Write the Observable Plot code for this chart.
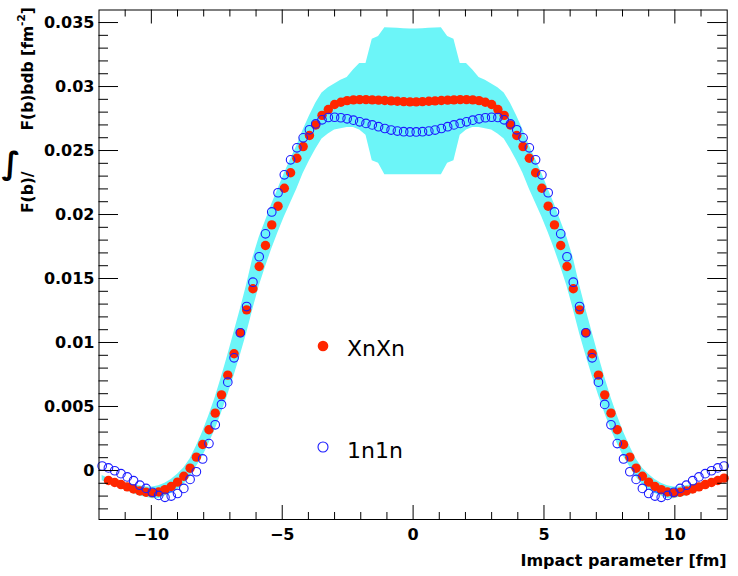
<!DOCTYPE html>
<html><head><meta charset="utf-8">
<script src="https://cdn.jsdelivr.net/npm/d3@7"></script>
<script src="https://cdn.jsdelivr.net/npm/@observablehq/plot@0.6"></script>
<style>body{margin:0;background:#fff} svg{display:block}</style>
</head><body><div id="chart"></div>
<script>
// Bin centres (impact parameter, fm)
const impactParam = [-11.88,-11.64,-11.40,-11.16,-10.92,-10.68,-10.44,-10.20,-9.96,-9.72,-9.48,-9.24,-9.00,-8.76,-8.52,-8.28,-8.04,-7.80,-7.56,-7.32,-7.08,-6.84,-6.60,-6.36,-6.12,-5.88,-5.64,-5.40,-5.16,-4.92,-4.68,-4.44,-4.20,-3.96,-3.72,-3.48,-3.24,-3.00,-2.76,-2.52,-2.28,-2.04,-1.80,-1.56,-1.32,-1.08,-0.84,-0.60,-0.36,-0.12,
0.12,0.36,0.60,0.84,1.08,1.32,1.56,1.80,2.04,2.28,2.52,2.76,3.00,3.24,3.48,3.72,3.96,4.20,4.44,4.68,4.92,5.16,5.40,5.64,5.88,6.12,6.36,6.60,6.84,7.08,7.32,7.56,7.80,8.04,8.28,8.52,8.76,9.00,9.24,9.48,9.72,9.96,10.20,10.44,10.68,10.92,11.16,11.40,11.64,11.88];

// XnXn (red full dots)
const xnxnValues = [null,-0.00078,-0.00094,-0.00110,-0.00128,-0.00145,-0.00160,-0.00170,-0.00175,-0.00168,-0.00150,-0.00125,-0.00091,-0.00045,0.00018,0.00104,0.00203,0.00318,0.00448,0.00591,0.00745,0.00912,0.01076,0.01255,0.01420,0.01594,0.01758,0.01919,0.02065,0.02205,0.02326,0.02440,0.02531,0.02617,0.02700,0.02775,0.02820,0.02860,0.02877,0.02890,0.02896,0.02898,0.02898,0.02896,0.02894,0.02891,0.02888,0.02885,0.02882,0.02880,
0.02880,0.02882,0.02885,0.02888,0.02891,0.02894,0.02896,0.02898,0.02898,0.02896,0.02890,0.02877,0.02860,0.02820,0.02775,0.02700,0.02617,0.02531,0.02440,0.02326,0.02205,0.02065,0.01919,0.01758,0.01594,0.01420,0.01255,0.01076,0.00912,0.00745,0.00591,0.00448,0.00318,0.00203,0.00104,0.00018,-0.00045,-0.00091,-0.00125,-0.00150,-0.00168,-0.00175,-0.00170,-0.00160,-0.00145,-0.00128,-0.00110,-0.00094,-0.00078,-0.00060];

// 1n1n (blue open circles)
const n1n1Values = [0.00035,0.00020,-0.00002,-0.00025,-0.00050,-0.00080,-0.00115,-0.00140,-0.00170,-0.00195,-0.00210,-0.00200,-0.00180,-0.00140,-0.00070,-0.00010,0.00090,0.00210,0.00357,0.00516,0.00690,0.00880,0.01076,0.01281,0.01471,0.01670,0.01849,0.02020,0.02170,0.02310,0.02427,0.02521,0.02599,0.02662,0.02708,0.02740,0.02758,0.02760,0.02756,0.02748,0.02737,0.02724,0.02712,0.02700,0.02686,0.02672,0.02660,0.02652,0.02647,0.02645,
0.02645,0.02647,0.02652,0.02660,0.02672,0.02686,0.02700,0.02712,0.02724,0.02737,0.02748,0.02756,0.02760,0.02758,0.02740,0.02708,0.02662,0.02599,0.02521,0.02427,0.02310,0.02170,0.02020,0.01849,0.01670,0.01471,0.01281,0.01076,0.00880,0.00690,0.00516,0.00357,0.00210,0.00090,-0.00010,-0.00070,-0.00140,-0.00180,-0.00200,-0.00210,-0.00195,-0.00170,-0.00140,-0.00115,-0.00080,-0.00050,-0.00025,-0.00002,0.00020,0.00035];

// Uncertainty band (cyan)
const bandLow = [-0.0008,-0.0010,-0.0012,-0.0014,-0.0016,-0.0018,-0.0020,-0.0021,-0.0022,-0.0022,-0.0020,-0.0018,-0.0015,-0.0011,-0.0005,0.0003,0.0011,0.0021,0.0032,0.0045,0.0059,0.0074,0.0090,0.0107,0.0126,0.0144,0.0159,0.0173,0.0186,0.0198,0.0209,0.0220,0.0232,0.0242,0.0251,0.0259,0.0263,0.0266,0.0267,0.0268,0.0268,0.0266,0.0262,0.0242,0.0240,0.0231,0.0231,0.0231,0.0231,0.0231,
0.0231,0.0231,0.0231,0.0231,0.0231,0.0240,0.0242,0.0262,0.0266,0.0268,0.0268,0.0267,0.0266,0.0263,0.0259,0.0251,0.0242,0.0232,0.0220,0.0209,0.0198,0.0186,0.0173,0.0159,0.0144,0.0126,0.0107,0.0090,0.0074,0.0059,0.0045,0.0032,0.0021,0.0011,0.0003,-0.0005,-0.0011,-0.0015,-0.0018,-0.0020,-0.0022,-0.0022,-0.0021,-0.0020,-0.0018,-0.0016,-0.0014,-0.0012,-0.0010,-0.0008];
const bandHigh = [-0.0004,-0.0006,-0.0007,-0.0009,-0.0010,-0.0011,-0.0012,-0.0013,-0.0013,-0.0012,-0.0010,-0.0007,-0.0003,0.0002,0.0009,0.0019,0.0030,0.0043,0.0057,0.0073,0.0090,0.0108,0.0126,0.0145,0.0166,0.0182,0.0195,0.0208,0.0220,0.0232,0.0243,0.0254,0.0266,0.0277,0.0287,0.0295,0.0299,0.0302,0.0305,0.0307,0.0313,0.0318,0.0318,0.0337,0.0339,0.0346,0.03458,0.03455,0.03452,0.0345,
0.0345,0.03452,0.03455,0.03458,0.0346,0.0339,0.0337,0.0318,0.0318,0.0313,0.0307,0.0305,0.0302,0.0299,0.0295,0.0287,0.0277,0.0266,0.0254,0.0243,0.0232,0.0220,0.0208,0.0195,0.0182,0.0166,0.0145,0.0126,0.0108,0.0090,0.0073,0.0057,0.0043,0.0030,0.0019,0.0009,0.0002,-0.0003,-0.0007,-0.0010,-0.0012,-0.0013,-0.0013,-0.0012,-0.0011,-0.0010,-0.0009,-0.0007,-0.0006,-0.0004];

const xMajorTicks = [-10, -5, 0, 5, 10];
const xTickLabels = ["\u221210", "\u22125", "0", "5", "10"];
const xMinorTicks = [-11,-9,-8,-7,-6,-4,-3,-2,-1,1,2,3,4,6,7,8,9,11];
const yMajorTicks = [0, 0.005, 0.01, 0.015, 0.02, 0.025, 0.03, 0.035];
const yTickLabels = ["0", "0.005", "0.01", "0.015", "0.02", "0.025", "0.03", "0.035"];
const yMinorTicks = [-0.003,-0.002,-0.001,0.001,0.002,0.003,0.004,0.006,0.007,0.008,0.009,0.011,0.012,0.013,0.014,0.016,0.017,0.018,0.019,0.021,0.022,0.023,0.024,0.026,0.027,0.028,0.029,0.031,0.032,0.033,0.034];
const seriesNames = ["XnXn", "1n1n"];
const xTitle = "Impact parameter [fm]";

const W = 738, H = 576;
const ML = 98.5, MR = 11.3, MT = 9.5, MB = 57;
const FW = W - ML - MR, FH = H - MT - MB;
const RED = "#ff2600", BLUE = "#1c1cff", CYAN = "#6cf5f8";
const FONT = "DejaVu Sans";

const band = impactParam.map((x, i) => ({x, lo: bandLow[i], hi: bandHigh[i]}));
const red = impactParam.map((x, i) => ({x, y: xnxnValues[i]})).filter(d => d.y != null);
const blue = impactParam.map((x, i) => ({x, y: n1n1Values[i]})).filter(d => d.y != null);

const tickStyle = {stroke: "black", strokeWidth: 1};
const plot = Plot.plot({
  width: W, height: H,
  marginLeft: ML, marginRight: MR, marginTop: MT, marginBottom: MB,
  style: {background: "white", fontFamily: FONT},
  x: {domain: [-12, 12]},
  y: {domain: [-0.00383, 0.03598]},
  marks: [
    Plot.areaY(band, {x: "x", y1: "lo", y2: "hi", fill: CYAN, curve: "linear"}),
    Plot.dot(red, {x: "x", y: "y", r: 4.7, fill: RED, stroke: "none"}),
    Plot.dot(blue, {x: "x", y: "y", r: 4.3, fill: "none", stroke: BLUE, strokeWidth: 1.1}),
    // inward ticks: bottom & top
    Plot.ruleX(xMajorTicks, {x: d => d, insetTop: FH - 14, ...tickStyle}),
    Plot.ruleX(xMajorTicks, {x: d => d, insetBottom: FH - 14, ...tickStyle}),
    Plot.ruleX(xMinorTicks, {x: d => d, insetTop: FH - 7, ...tickStyle}),
    Plot.ruleX(xMinorTicks, {x: d => d, insetBottom: FH - 7, ...tickStyle}),
    // inward ticks: left & right
    Plot.ruleY(yMajorTicks, {y: d => d, insetRight: FW - 19.5, ...tickStyle}),
    Plot.ruleY(yMajorTicks, {y: d => d, insetLeft: FW - 19.5, ...tickStyle}),
    Plot.ruleY(yMinorTicks, {y: d => d, insetRight: FW - 9.5, ...tickStyle}),
    Plot.ruleY(yMinorTicks, {y: d => d, insetLeft: FW - 9.5, ...tickStyle}),
    Plot.axisX(xMajorTicks, {anchor: "bottom", tickSize: 0, tickPadding: 9.6, label: null,
      tickFormat: d => xTickLabels[xMajorTicks.indexOf(d)], fontSize: 16, fontWeight: "bold", fill: "black"}),
    Plot.axisY(yMajorTicks, {anchor: "left", tickSize: 0, tickPadding: 4.5, label: null,
      tickFormat: d => yTickLabels[yMajorTicks.indexOf(d)], fontSize: 16, fontWeight: "bold", fill: "black"}),
    Plot.frame({stroke: "black", strokeWidth: 1})
  ]
});

const svg = d3.select(plot);
svg.selectAll("text").attr("font-family", FONT);

// X axis title
svg.append("text")
  .attr("x", ML + FW).attr("y", 566)
  .attr("text-anchor", "end")
  .attr("font-family", FONT).attr("font-weight", "bold").attr("font-size", 16)
  .attr("fill", "black")
  .text(xTitle);

// Y axis title (rotated), with gap for the integral sign
const yt = svg.append("text")
  .attr("transform", "translate(33,213) rotate(-90)")
  .attr("text-anchor", "start")
  .attr("font-family", FONT).attr("font-weight", "bold").attr("font-size", 15.5)
  .attr("fill", "black");
yt.append("tspan").text("F(b)/");
yt.append("tspan").attr("dx", 41).text("F(b)bdb [fm");
yt.append("tspan").attr("font-size", 10.5).attr("dy", -8).text("-2");
yt.append("tspan").attr("dy", 8).text("]");
// integral sign (upright, as in the reference)
svg.append("text")
  .attr("x", 11).attr("y", 174)
  .attr("text-anchor", "middle")
  .attr("font-family", FONT).attr("font-weight", "bold").attr("font-size", 31)
  .attr("fill", "black")
  .text("\u222B");

// Legend
const lg = svg.append("g").attr("text-anchor", "start");
lg.append("circle").attr("cx", 323).attr("cy", 346).attr("r", 5.3).attr("fill", RED);
lg.append("text").attr("x", 347).attr("y", 356).attr("text-anchor", "start").attr("font-family", FONT).attr("font-size", 22)
  .attr("fill", "black").text(seriesNames[0]);
lg.append("circle").attr("cx", 323).attr("cy", 447).attr("r", 5.0).attr("fill", "none")
  .attr("stroke", BLUE).attr("stroke-width", 1.1);
lg.append("text").attr("x", 347).attr("y", 458).attr("text-anchor", "start").attr("font-family", FONT).attr("font-size", 22)
  .attr("fill", "black").text(seriesNames[1]);

document.getElementById("chart").appendChild(plot);
</script>
</body></html>
